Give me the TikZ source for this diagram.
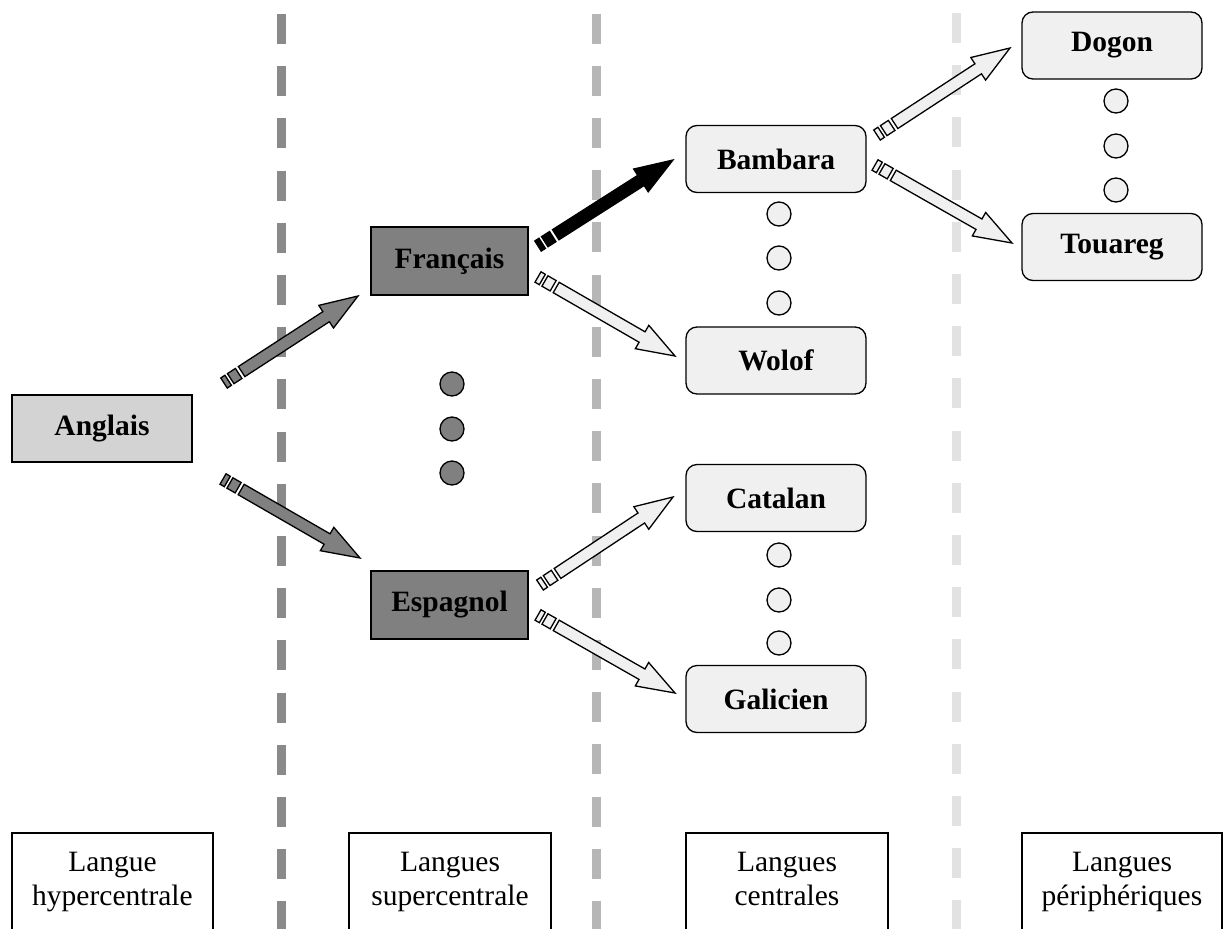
\documentclass[tikz,border=0pt]{standalone}
\usepackage{fontspec}
\setmainfont{Liberation Serif}
\usetikzlibrary{calc}
\definecolor{gA}{HTML}{8A8A8A}
\definecolor{gB}{HTML}{B6B6B6}
\definecolor{gC}{HTML}{E2E2E2}
\definecolor{dark}{HTML}{808080}
\definecolor{boxl}{HTML}{F0F0F0}
\definecolor{boxm}{HTML}{D3D3D3}
\newcommand\stripedarrow[3]{%
 \pgfpointdiff{\pgfpointanchor{#1}{center}}{\pgfpointanchor{#2}{center}}%
 \pgfgetlastxy{\sdx}{\sdy}%
 \pgfmathsetmacro\sang{atan2(\sdy,\sdx)}%
 \pgfmathsetmacro\slen{veclen(\sdx,\sdy)}%
 \pgfmathsetmacro\sbase{\slen-38}%
 \begin{scope}[shift={(#1)},rotate=\sang]
  \filldraw[arrowline,fill=#3] (0pt,-6pt) rectangle (5pt,6pt);
  \filldraw[arrowline,fill=#3] (8pt,-6pt) rectangle (17.5pt,6pt);
  \filldraw[arrowline,fill=#3] (21pt,-6pt) -- (\sbase pt,-6pt) -- (\sbase pt,-13.5pt) -- (\slen pt,0pt) -- (\sbase pt,13.5pt) -- (\sbase pt,6pt) -- (21pt,6pt) -- cycle;
 \end{scope}}
\begin{document}
\begin{tikzpicture}[x=1pt,y=-1pt,
  arrowline/.style={draw=black,line width=1.3pt,line join=miter},
  sq/.style={draw=black,line width=1.3pt,minimum width=180pt,minimum height=67pt,inner sep=0pt,
    font=\fontsize{29.5}{34}\selectfont\bfseries},
  rd/.style={sq,rounded corners=11pt,fill=boxl},
  dot/.style={circle,draw=black,line width=1.3pt,minimum size=24pt,inner sep=0pt},
  vline/.style={line width=9pt,dash pattern=on 30pt off 22.2pt},
  capbox/.style={draw=black,line width=1.3pt,minimum height=98pt,inner sep=0pt,align=center,
    font=\fontsize{29.5}{34}\selectfont}]
\useasboundingbox (0,0) rectangle (1224,929);
\clip (0,0) rectangle (1224,929);
% column separators
\draw[vline,draw=gA] (281,14) -- (281,940);
\draw[vline,draw=gB] (596,13.5) -- (596,940);
\draw[vline,draw=gC] (956,13) -- (956,940);
% language nodes
\node[sq,fill=boxm] (ang) at (102,428.5) {Anglais};
\node[sq,fill=dark,minimum width=157pt,minimum height=68pt] (fra) at (449.5,261) {Français};
\node[sq,fill=dark,minimum width=157pt,minimum height=68pt] (esp) at (449.5,605) {Espagnol};
\node[rd] (bam) at (776,159) {Bambara};
\node[rd] (wol) at (776,360.5) {Wolof};
\node[rd] (cat) at (776,498) {Catalan};
\node[rd] (gal) at (776,699) {Galicien};
\node[rd] (dog) at (1112,45.5) {Dogon};
\node[rd] (tou) at (1112,247) {Touareg};
% ellipsis dots
\node[dot,fill=dark] (d1) at (452,384) {};
\node[dot,fill=dark] (d2) at (452,429) {};
\node[dot,fill=dark] (d3) at (452,473) {};
\node[dot,fill=boxl] (e1) at (779,214) {};
\node[dot,fill=boxl] (e2) at (779,258) {};
\node[dot,fill=boxl] (e3) at (779,303) {};
\node[dot,fill=boxl] (f1) at (779,555) {};
\node[dot,fill=boxl] (f2) at (779,600) {};
\node[dot,fill=boxl] (f3) at (779,643) {};
\node[dot,fill=boxl] (h1) at (1116,101) {};
\node[dot,fill=boxl] (h2) at (1116,146) {};
\node[dot,fill=boxl] (h3) at (1116,190) {};
% arrow end points
\coordinate (a1s) at (224,383);  \coordinate (a1e) at (358,296);
\coordinate (a2s) at (223,479);  \coordinate (a2e) at (360,558);
\coordinate (a3s) at (538,246);  \coordinate (a3e) at (673,160);
\coordinate (a4s) at (538,277);  \coordinate (a4e) at (675,356);
\coordinate (a5s) at (540,585);  \coordinate (a5e) at (673,497);
\coordinate (a6s) at (538,615);  \coordinate (a6e) at (675,693);
\coordinate (a7s) at (877,135);  \coordinate (a7e) at (1010,48);
\coordinate (a8s) at (875,165);  \coordinate (a8e) at (1012,243);
\stripedarrow{a1s}{a1e}{dark}
\stripedarrow{a2s}{a2e}{dark}
\stripedarrow{a3s}{a3e}{black}
\stripedarrow{a4s}{a4e}{boxl}
\stripedarrow{a5s}{a5e}{boxl}
\stripedarrow{a6s}{a6e}{boxl}
\stripedarrow{a7s}{a7e}{boxl}
\stripedarrow{a8s}{a8e}{boxl}
% bottom captions
\node[capbox,minimum width=201pt] (c1) at (112.5,882) {Langue\\hypercentrale};
\node[capbox,minimum width=202pt] (c2) at (450,882) {Langues\\supercentrale};
\node[capbox,minimum width=202pt] (c3) at (787,882) {Langues\\centrales\vphantom{p}};
\node[capbox,minimum width=200pt] (c4) at (1122,882) {Langues\\périphériques};
\end{tikzpicture}
\end{document}
